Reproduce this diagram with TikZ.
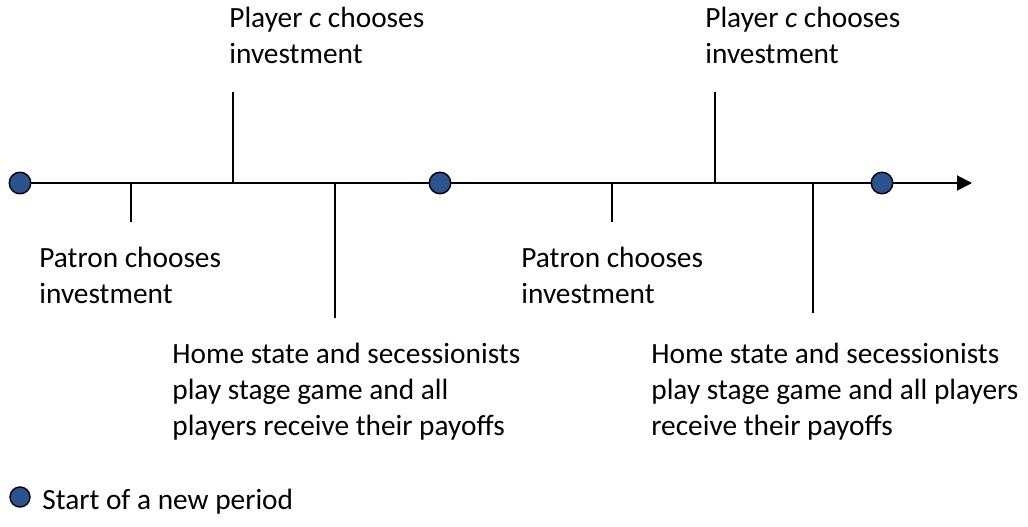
\documentclass[tikz,border=0pt]{standalone}
\usepackage{fontspec}
\setmainfont{Carlito}
\usetikzlibrary{arrows.meta,positioning}
\definecolor{dotblue}{RGB}{44,82,143}
\tikzset{
  period/.style={circle,draw=black,line width=0.8pt,fill=dotblue,minimum size=0.43cm,inner sep=0pt},
  label/.style={anchor=north west,inner sep=0pt,align=left,font=\fontsize{16.7}{20.4}\selectfont},
  tick/.style={line width=0.9pt}
}
\begin{document}
\begin{tikzpicture}[x=0.02cm,y=-0.02cm]
              \useasboundingbox (0,0) rectangle (1028,527);
              % timeline
              \coordinate (end) at (972,183);
              \node[period](p1)at(20,183){};
              \node[period](p2)at(440,183){};
              \node[period](p3)at(882,183){};
              \draw[line width=1.1pt,-{Triangle[length=0.3cm,width=0.3cm]}] (p1)--(p2)--(p3)--(end);
              \draw[tick] (131,183)coordinate(a1)--(131,222)coordinate(a2);
              \draw[tick] (233,183)coordinate(b1)--(233,92)coordinate(b2);
              \draw[tick] (335,183)coordinate(c1)--(335,318)coordinate(c2);
              \draw[tick] (612,183)coordinate(d1)--(612,222)coordinate(d2);
              \draw[tick] (715,183)coordinate(e1)--(715,92)coordinate(e2);
              \draw[tick] (813,183)coordinate(f1)--(813,313)coordinate(f2);
              % texts
              \node[label](t1)at(229,7){Player \textit{c} chooses\\investment};
              \node[label](t2)at(705,7){Player \textit{c} chooses\\investment};
              \node[label](t3)at(39,247){Patron chooses\\investment};
              \node[label](t4)at(521,247){Patron chooses\\investment};
              \node[label](t5)at(172,343){Home state and secessionists\\play stage game and all\\players receive their payoffs};
              \node[label](t6)at(651,343){Home state and secessionists\\play stage game and all players\\receive their payoffs};
              % legend
              \node[period,minimum size=0.4cm](lg)at(20,497){};
              \node[label,anchor=west](lgt)at(42,502){Start of a new period};
            \end{tikzpicture}
\end{document}
